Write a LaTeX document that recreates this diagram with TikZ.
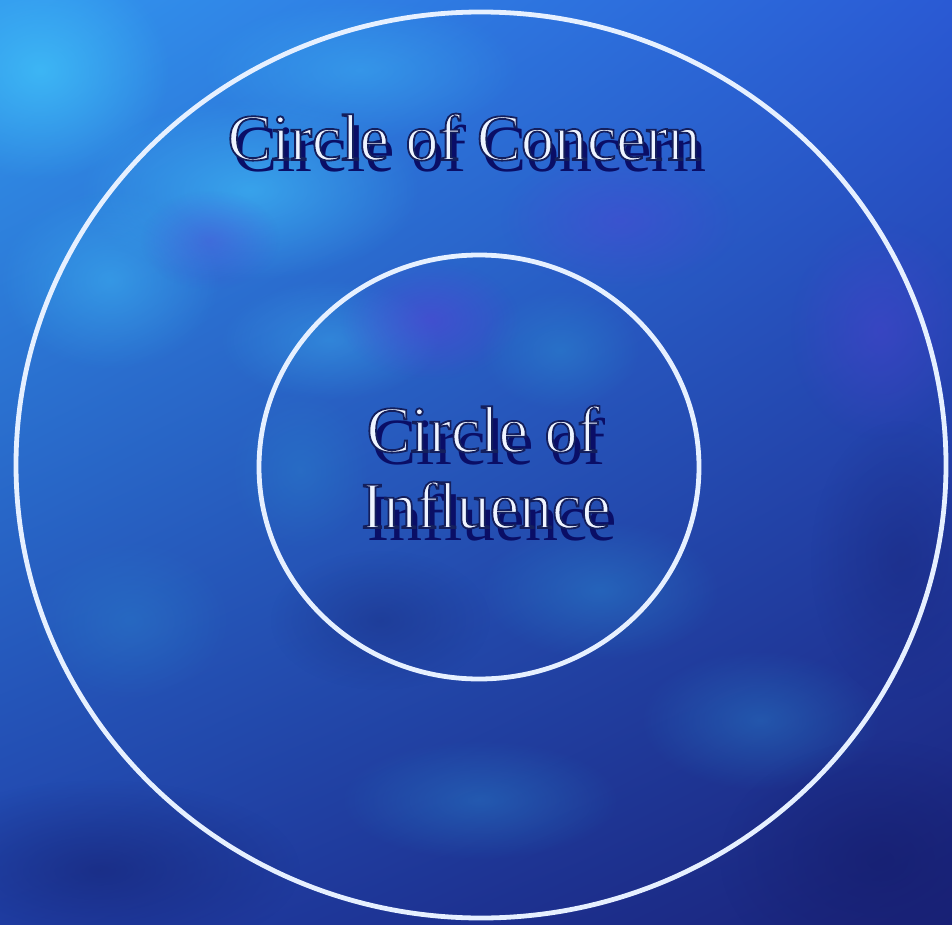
\documentclass[tikz,border=0pt]{standalone}
\usepackage{fontspec}
\setmainfont{Liberation Serif}
\usetikzlibrary{shapes.geometric,fadings,shadings}
\definecolor{bgUL}{HTML}{3296EE}
\definecolor{bgUR}{HTML}{2A5AD4}
\definecolor{bgLL}{HTML}{2040A8}
\definecolor{bgLR}{HTML}{1A2278}
\definecolor{blobcyan}{HTML}{40C0F8}
\definecolor{blobpurple}{HTML}{5A3ED8}
\definecolor{blobteal}{HTML}{2A88D0}
\definecolor{blobnavy}{HTML}{141C6A}
\definecolor{ringc}{HTML}{E6F0FF}
\definecolor{shadowc}{HTML}{0A0E66}
\definecolor{textc}{HTML}{EEF4FF}
\tikzfading[name=blobfade, inner color=transparent!0, outer color=transparent!100]
\newcommand\outlined[1]{\special{pdf:literal direct 2 Tr 0.9 w 0.08 0.12 0.36 RG}#1\special{pdf:literal direct 0 Tr}}
\tikzset{
  blob/.style={path fading=blobfade, fill opacity=#1},
  ring/.style={ellipse, draw=ringc, line width=2.4pt, inner sep=0pt, outer sep=0pt},
  lbl/.style={font=\fontsize{33}{38}\selectfont, anchor=base, inner sep=0pt},
}
\newcommand\fancylabel[4]{%
  \node[lbl, text=shadowc, name=#1s] at (#2+6,#3+12) {#4};
  \node[lbl, text=textc, name=#1] at (#2,#3) {\outlined{#4}};
}
\begin{document}
\begin{tikzpicture}[x=0.5pt,y=-0.5pt]
\useasboundingbox (0,0) rectangle (952,925);
% background
\shade[upper left=bgUL, upper right=bgUR, lower left=bgLL, lower right=bgLR] (0,0) rectangle (952,925);
\begin{scope}
\clip (0,0) rectangle (952,925);
\fill[blobcyan, blob=0.8] (40,70) ellipse (130 and 110);
\fill[blobcyan, blob=0.6] (250,190) ellipse (170 and 90);
\fill[blobcyan, blob=0.45] (110,280) ellipse (110 and 90);
\fill[blobcyan, blob=0.4] (360,70) ellipse (160 and 70);
\fill[blobcyan, blob=0.35] (330,340) ellipse (110 and 60);
\fill[blobpurple, blob=0.5] (430,320) ellipse (90 and 60);
\fill[blobpurple, blob=0.35] (210,240) ellipse (70 and 50);
\fill[blobpurple, blob=0.35] (620,220) ellipse (120 and 70);
\fill[blobpurple, blob=0.35] (880,330) ellipse (90 and 110);
\fill[blobteal, blob=0.5] (560,350) ellipse (80 and 60);
\fill[blobteal, blob=0.45] (600,590) ellipse (120 and 70);
\fill[blobteal, blob=0.4] (760,720) ellipse (120 and 70);
\fill[blobteal, blob=0.4] (480,800) ellipse (140 and 60);
\fill[blobteal, blob=0.35] (130,620) ellipse (100 and 80);
\fill[blobteal, blob=0.35] (300,470) ellipse (70 and 80);
\fill[blobnavy, blob=0.5] (100,870) ellipse (200 and 90);
\fill[blobnavy, blob=0.55] (880,860) ellipse (160 and 120);
\fill[blobnavy, blob=0.3] (900,560) ellipse (90 and 140);
\fill[blobnavy, blob=0.3] (380,620) ellipse (110 and 70);
\end{scope}
% rings
\node[ring, minimum width=465pt, minimum height=453pt] (outer) at (481,465) {};
\node[ring, minimum width=220pt, minimum height=212pt] (inner) at (479,467) {};
% labels
\fancylabel{concern}{464}{160}{Circle of Concern}
\fancylabel{inflA}{483}{452}{Circle of}
\fancylabel{inflB}{486}{528}{Influence}
\end{tikzpicture}
\end{document}
